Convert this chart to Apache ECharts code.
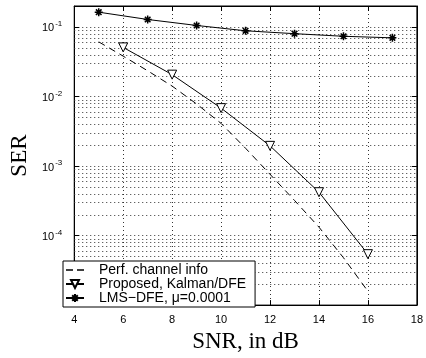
<!DOCTYPE html>
<html>
<head>
<meta charset="utf-8">
<script src="https://cdn.jsdelivr.net/npm/echarts@6/dist/echarts.min.js"></script>
<style>
  html, body { margin: 0; padding: 0; background: #fff; }
  #chart { width: 426px; height: 358px; }
</style>
</head>
<body>
<div id="chart"></div>
<script>
// data
const perfSnr = [5, 6, 7, 8, 9, 10, 11, 12, 13, 14, 15, 16];
const perfSer = [0.061, 0.038, 0.0234, 0.0141, 0.0078, 0.0041, 0.0018, 0.00076, 0.00032, 0.000132, 0.000048, 0.0000158];
const kalmanSnr = [6, 8, 10, 12, 14, 16];
const kalmanSer = [0.0508, 0.0206, 0.0068, 0.00195, 0.00042, 0.000054];
const lmsSnr = [5, 7, 9, 11, 13, 15, 17];
const lmsSer = [0.163, 0.128, 0.105, 0.088, 0.080, 0.0734, 0.0697];
const seriesNames = ['Perf. channel info', 'Proposed, Kalman/DFE', 'LMS\u2212DFE, \u03bc=0.0001'];

const pairs = (xs, ys) => xs.map((x, i) => [x, ys[i]]);

// dotted minor grid at 2..9 x 10^k (echarts log minor ticks are spaced evenly, so draw them here)
const minorValues = [];
for (let e = -5; e <= -2; e++) {
    for (let k = 2; k <= 9; k++) minorValues.push(k * Math.pow(10, e));
}

const dotted = { color: '#333', width: 1, type: [1, 3] };
const sans = "'Liberation Sans', Arial, sans-serif";
const serif = "'Liberation Serif', 'Times New Roman', serif";

const asterisk = 'path://M5,0L5,10M0,5L10,5M1.5,1.5L8.5,8.5M1.5,8.5L8.5,1.5';
const twoDashes = 'path://M0,0L7,0L7,1.4L0,1.4ZM11,0L18,0L18,1.4L11,1.4Z';

const chart = echarts.init(document.getElementById('chart'));
chart.setOption({
    animation: false,
    backgroundColor: '#fff',
    grid: { left: 56, top: 6, right: 9, bottom: 48, show: true, borderColor: '#000', borderWidth: 1, backgroundColor: 'transparent' },
    xAxis: [{
        type: 'value', min: 4, max: 18, interval: 2,
        name: 'SNR, in dB', nameLocation: 'middle', nameGap: 22,
        nameTextStyle: { fontFamily: serif, fontSize: 23, color: '#000' },
        axisLine: { lineStyle: { color: '#000' } },
        axisTick: { inside: true, length: 5, lineStyle: { color: '#000' } },
        axisLabel: { fontFamily: sans, fontSize: 11, color: '#000', margin: 9 },
        splitLine: { show: true, lineStyle: dotted }
    }, {
        type: 'value', min: 4, max: 18, interval: 2, position: 'top',
        axisLine: { lineStyle: { color: '#000' } },
        axisTick: { inside: true, length: 5, lineStyle: { color: '#000' } },
        axisLabel: { show: false }, splitLine: { show: false }
    }],
    yAxis: [{
        type: 'log', logBase: 10, min: 1e-5, max: 0.2,
        name: 'SER', nameLocation: 'middle', nameGap: 22, nameRotate: 90,
        nameTextStyle: { fontFamily: serif, fontSize: 23, color: '#000' },
        axisLine: { show: true, lineStyle: { color: '#000' } },
        axisTick: { inside: true, length: 5, lineStyle: { color: '#000' } },
        axisLabel: {
            margin: 12,
            formatter: v => {
                const e = Math.round(Math.log10(v));
                if (Math.abs(Math.log10(v) - e) > 1e-6 || e <= -5) return '';
                return '{b|10}{s|' + e + '}';
            },
            rich: {
                b: { fontFamily: sans, fontSize: 11, color: '#000', lineHeight: 14, verticalAlign: 'bottom' },
                s: { fontFamily: sans, fontSize: 8, color: '#000', lineHeight: 14, verticalAlign: 'top', padding: [0, 0, 9, 1] }
            }
        },
        splitLine: { show: true, lineStyle: dotted }
    }, {
        type: 'log', logBase: 10, min: 1e-5, max: 0.2, position: 'right',
        axisLine: { show: true, lineStyle: { color: '#000' } },
        axisTick: { inside: true, length: 5, lineStyle: { color: '#000' } },
        axisLabel: { show: false }, splitLine: { show: false }
    }],
    legend: {
        orient: 'vertical', left: 63, top: 261,
        backgroundColor: '#fff', borderColor: '#000', borderWidth: 1,
        padding: [2, 9, 2, 2], itemGap: 0, itemWidth: 18, itemHeight: 10,
        textStyle: { fontFamily: sans, fontSize: 14, lineHeight: 14, color: '#000', padding: [0, 0, 0, 10] },
        data: [
            { name: seriesNames[0], icon: twoDashes, itemStyle: { color: '#000' } },
            { name: seriesNames[1] },
            { name: seriesNames[2] }
        ]
    },
    series: [{
        type: 'custom', silent: true, z: 1,
        data: minorValues,
        encode: { y: 0 },
        renderItem: (params, api) => {
            const y = Math.round(api.coord([4, api.value(0)])[1]) + 0.5;
            const cs = params.coordSys;
            return {
                type: 'line',
                shape: { x1: cs.x, y1: y, x2: cs.x + cs.width, y2: y },
                style: { stroke: '#333', lineWidth: 1, lineDash: [1, 3] }
            };
        }
    }, {
        name: seriesNames[0], type: 'line', data: pairs(perfSnr, perfSer),
        showSymbol: false, symbol: 'none', z: 3,
        lineStyle: { color: '#000', width: 1, type: [7, 5] },
        itemStyle: { color: '#000' }
    }, {
        name: seriesNames[1], type: 'line', data: pairs(kalmanSnr, kalmanSer), z: 3,
        symbol: 'triangle', symbolRotate: 180, symbolSize: 9,
        lineStyle: { color: '#000', width: 1 },
        itemStyle: { color: '#fff', borderColor: '#000', borderWidth: 1 }
    }, {
        name: seriesNames[2], type: 'line', data: pairs(lmsSnr, lmsSer), z: 3,
        symbol: asterisk, symbolSize: 8,
        lineStyle: { color: '#000', width: 1 },
        itemStyle: { color: '#000', borderColor: '#000', borderWidth: 1.5 }
    }]
});
</script>
</body>
</html>
